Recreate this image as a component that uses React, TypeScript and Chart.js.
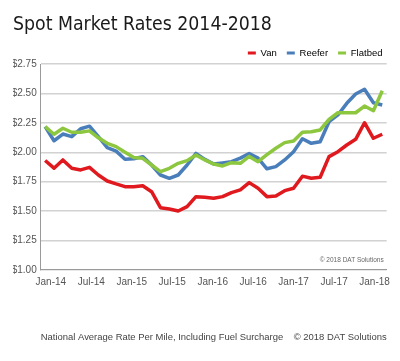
import { useEffect, useRef } from "react";
import { Chart, registerables } from "chart.js";

Chart.register(...registerables);

// ---- data ----
const periods: string[] = Array.from({ length: 39 }, (_, i) => `P${i + 1}`);
const xTickLabels = ["Jan-14", "Jul-14", "Jan-15", "Jul-15", "Jan-16", "Jul-16", "Jan-17", "Jul-17", "Jan-18"];

const van = [
  1.93, 1.865, 1.935, 1.864, 1.85, 1.872, 1.807, 1.756, 1.731, 1.708,
  1.708, 1.716, 1.665, 1.529, 1.518, 1.501, 1.538, 1.623, 1.618, 1.609,
  1.623, 1.657, 1.68, 1.742, 1.694, 1.623, 1.629, 1.674, 1.694, 1.797,
  1.779, 1.788, 1.963, 2.005, 2.062, 2.11, 2.251, 2.119, 2.153,
];
const reefer = [
  2.218, 2.098, 2.155, 2.133, 2.2, 2.222, 2.133, 2.04, 2.01, 1.94,
  1.945, 1.963, 1.892, 1.807, 1.779, 1.807, 1.892, 1.991, 1.94, 1.9,
  1.91, 1.92, 1.95, 1.99, 1.95, 1.86, 1.878, 1.935, 2.005, 2.115,
  2.076, 2.09, 2.26, 2.317, 2.416, 2.495, 2.535, 2.421, 2.402,
];
const flatbed = [
  2.218, 2.153, 2.204, 2.17, 2.17, 2.182, 2.123, 2.076, 2.048, 2.0,
  1.956, 1.949, 1.892, 1.835, 1.864, 1.906, 1.929, 1.977, 1.935, 1.9,
  1.884, 1.912, 1.906, 1.965, 1.92, 1.98, 2.034, 2.082, 2.095, 2.17,
  2.175, 2.19, 2.28, 2.336, 2.336, 2.336, 2.393, 2.353, 2.523,
];
const seriesNames = ["Van", "Reefer", "Flatbed"];
const seriesColors = ["#e0191e", "#4a7ebb", "#8dc63f"];

const titleText = "Spot Market Rates 2014-2018";
const footerText = "National Average Rate Per Mile, Including Fuel Surcharge    \u00a9 2018 DAT Solutions";
const noteText = "\u00a9 2018 DAT Solutions";

const SANS = '"Liberation Sans", Arial, Helvetica, sans-serif';
const NARROW = '"Liberation Sans Narrow", "Arial Narrow", "DejaVu Sans Condensed", sans-serif';

const notePlugin = {
  id: "inPlotNote",
  afterDatasetsDraw(chart: any) {
    const { ctx, chartArea } = chart;
    ctx.save();
    ctx.font = `6.5px ${SANS}`;
    ctx.fillStyle = "#666";
    ctx.textAlign = "right";
    ctx.textBaseline = "middle";
    ctx.fillText(noteText, chartArea.right - 3, chartArea.bottom - 9.5);
    ctx.restore();
  },
};

export default function App() {
  const ref = useRef<HTMLCanvasElement | null>(null);

  useEffect(() => {
    if (!ref.current) return;
    const values = [van, reefer, flatbed];
    const orders = [2, 1, 0];
    const chart = new Chart(ref.current, {
      type: "line",
      data: {
        labels: periods,
        datasets: values.map((v, i) => ({
          label: seriesNames[i],
          data: v,
          borderColor: seriesColors[i],
          backgroundColor: seriesColors[i],
          borderWidth: 3.5,
          borderJoinStyle: "round" as const,
          pointRadius: 0,
          tension: 0,
          order: orders[i],
          xAxisID: "x",
          yAxisID: "y",
        })),
      },
      options: {
        responsive: false,
        animation: false,
        layout: { padding: { left: 13, right: 7.5, top: 0, bottom: 0 } },
        plugins: {
          tooltip: { enabled: false },
          title: {
            display: true,
            text: titleText,
            align: "start",
            color: "#1a1a1a",
            font: { family: NARROW, size: 19.3, weight: "normal", lineHeight: 1.2 },
            padding: { top: 13.1, bottom: 2 },
          },
          legend: {
            display: true,
            position: "top",
            align: "end",
            maxHeight: 25.75,
            labels: {
              boxWidth: 8,
              boxHeight: 3,
              padding: 10,
              color: "#555",
              font: { family: SANS, size: 9.5 },
              generateLabels: (c: any) =>
                c.data.datasets.map((ds: any, i: number) => ({
                  text: ds.label,
                  fillStyle: ds.borderColor,
                  strokeStyle: ds.borderColor,
                  lineWidth: 0,
                  hidden: !c.isDatasetVisible(i),
                  datasetIndex: i,
                })),
            },
          },
          subtitle: {
            display: true,
            position: "bottom",
            fullSize: false,
            text: footerText,
            color: "#444",
            font: { family: SANS, size: 9.55, weight: "normal", lineHeight: 1.2 },
            padding: { top: 43.97, bottom: 17.6 },
          },
        },
        scales: {
          x: { type: "category", offset: true, display: false },
          xl: {
            type: "linear",
            position: "bottom",
            min: -0.25,
            max: 8.3,
            afterBuildTicks: (s: any) => {
              s.ticks = xTickLabels.map((_, i) => ({ value: i }));
            },
            afterFit: (s: any) => {
              s.height = 18;
              s.paddingLeft = 0;
              s.paddingRight = 0;
            },
            grid: { display: false, drawTicks: false },
            border: { display: true, color: "#9a9a9a", width: 1 },
            ticks: {
              autoSkip: false,
              maxRotation: 0,
              padding: 6,
              color: "#555",
              font: { family: SANS, size: 10 },
              callback: (v: any) => xTickLabels[Number(v)] ?? "",
            },
          },
          y: {
            min: 1,
            max: 2.75,
            afterFit: (s: any) => {
              s.width = 27.7;
            },
            grid: { color: "#d2d2d2", lineWidth: 1.5, drawTicks: false },
            border: { color: "#9a9a9a", width: 1 },
            ticks: {
              stepSize: 0.25,
              padding: 4,
              color: "#555",
              font: { family: SANS, size: 10 },
              callback: (v: any) => "$" + Number(v).toFixed(2),
            },
          },
          yr: {
            position: "right",
            display: true,
            grid: { display: false, drawTicks: false },
            border: { display: false },
            ticks: { display: false },
            afterFit: (s: any) => {
              s.width = 5.8;
            },
          },
        },
      } as any,
      plugins: [notePlugin],
    });
    return () => chart.destroy();
  }, []);

  return (
    <div style={{ position: "absolute", left: 0, top: 0, width: 400, height: 361, background: "#fff" }}>
      <canvas ref={ref} width={400} height={361} style={{ display: "block" }} />
    </div>
  );
}
